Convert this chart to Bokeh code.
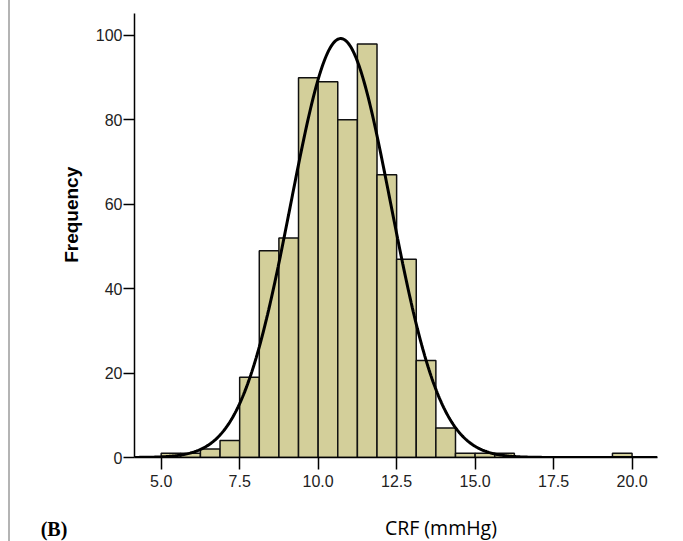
import numpy as np
from bokeh.plotting import figure
from bokeh.models import Label, FixedTicker, NumeralTickFormatter, Range1d
from bokeh.embed import file_html
from bokeh.resources import INLINE

# ---- data ----
bin_starts = [5.0, 5.625, 6.25, 6.875, 7.5, 8.125, 8.75, 9.375, 10.0, 10.625,
              11.25, 11.875, 12.5, 13.125, 13.75, 14.375, 15.0, 15.625, 19.375]
counts = [1, 1, 2, 4, 19, 49, 52, 90, 89, 80, 98, 67, 47, 23, 7, 1, 1, 1, 1]
bin_width = 0.625
x_ticks = [5.0, 7.5, 10.0, 12.5, 15.0, 17.5, 20.0]
y_ticks = [0, 20, 40, 60, 80, 100]
fit_mean = 10.72
fit_sd = 1.59
n_total = sum(counts)

x_lo, x_hi = 4.15, 20.81
y_lo, y_hi = 0, 105.2

p = figure(width=667, height=541, output_backend="svg", toolbar_location=None,
           x_range=Range1d(x_lo, x_hi), y_range=Range1d(y_lo, y_hi),
           min_border_left=124, min_border_right=20, min_border_top=13,
           min_border_bottom=84)
p.styles = {"margin-left": "8px", "border-left": "2px solid #b4b4b4"}
p.outline_line_color = None
p.xgrid.visible = False
p.ygrid.visible = False
p.background_fill_color = "white"
p.border_fill_color = "white"

lefts = np.array(bin_starts)
rights = lefts + bin_width
p.quad(left=lefts, right=rights, bottom=0, top=counts,
       fill_color="#d3cf9a", line_color="#111111", line_width=1.5)

xs = np.linspace(x_lo, x_hi, 500)
ys = n_total * bin_width / (fit_sd * np.sqrt(2 * np.pi)) * np.exp(-0.5 * ((xs - fit_mean) / fit_sd) ** 2)
p.line(xs, ys, line_color="black", line_width=3)

for ax in (p.xaxis[0], p.yaxis[0]):
    ax.axis_line_color = "black"
    ax.axis_line_width = 1.5
    ax.major_tick_line_color = "black"
    ax.major_tick_line_width = 1.5
    ax.major_tick_in = 0
    ax.minor_tick_line_color = None
    ax.major_label_text_font = "Liberation Sans"
    ax.major_label_text_font_size = "16px"
    ax.major_label_text_color = "#222222"

p.xaxis.ticker = FixedTicker(ticks=x_ticks)
p.xaxis.formatter = NumeralTickFormatter(format="0.0")
p.xaxis.major_tick_out = 12
p.xaxis.major_label_standoff = 5
p.yaxis.ticker = FixedTicker(ticks=y_ticks)
p.yaxis.formatter = NumeralTickFormatter(format="0")
p.yaxis.major_tick_out = 11
p.yaxis.major_label_standoff = 1

p.add_layout(Label(x=2.14, y=57.5, text="Frequency", angle=np.pi / 2,
                   text_align="center", text_baseline="middle",
                   text_font="Liberation Sans", text_font_style="bold",
                   text_font_size="19px", text_color="black"), "left")
p.add_layout(Label(x=13.91, y=-16.7, text="CRF (mmHg)",
                   text_align="center", text_baseline="alphabetic",
                   text_font="Open Sans", text_font_size="19.5px", text_color="black"), "below")
p.add_layout(Label(x=1.16, y=-16.9, text="(B)",
                   text_align="left", text_baseline="alphabetic",
                   text_font="Liberation Serif", text_font_style="bold",
                   text_font_size="20px", text_color="black"), "below")

open("out.html", "w").write(file_html(p, INLINE))
